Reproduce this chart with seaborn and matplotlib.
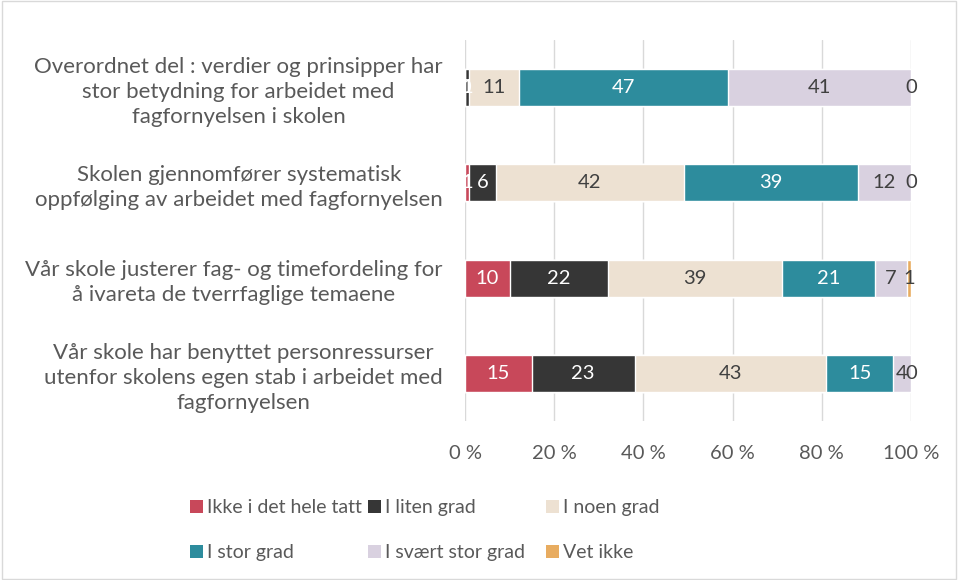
import numpy as np
import pandas as pd
import seaborn as sns
import matplotlib.pyplot as plt
from matplotlib.patches import Patch, Rectangle

# Data (percent of respondents)
statements = [
    "Overordnet del : verdier og prinsipper har\nstor betydning for arbeidet med\nfagfornyelsen i skolen",
    "Skolen gjennomfører systematisk\noppfølging av arbeidet med fagfornyelsen",
    "Vår skole justerer fag- og timefordeling for\nå ivareta de tverrfaglige temaene",
    "Vår skole har benyttet personressurser\nutenfor skolens egen stab i arbeidet med\nfagfornyelsen",
]
series = ["Ikke i det hele tatt", "I liten grad", "I noen grad",
          "I stor grad", "I svært stor grad", "Vet ikke"]
ikke = [0, 1, 10, 15]
liten = [1, 6, 22, 23]
noen = [11, 42, 39, 43]
stor = [47, 39, 21, 15]
svaert = [41, 12, 7, 4]
vet_ikke = [0, 0, 1, 0]
x_ticks = [0, 20, 40, 60, 80, 100]
x_ticklabels = ["0 %", "20 %", "40 %", "60 %", "80 %", "100 %"]

colors = ["#C8485A", "#363636", "#EDE1D2", "#2D8C9D", "#D9D1E0", "#E8AC60"]
label_colors = ["white", "white", "#404040", "white", "#404040", "#404040"]
text_grey = "#595959"

sns.set_theme(style="white")
plt.rcParams["font.family"] = ["Lato", "DejaVu Sans"]

values = pd.DataFrame(
    np.array([ikke, liten, noen, stor, svaert, vet_ikke]).T,
    index=statements, columns=series,
)
cum = values.cumsum(axis=1)

fig = plt.figure(figsize=(9.58, 5.8), dpi=100)
ax = fig.add_axes([0.4854, 0.274, 0.4656, 0.657])

# stacked bars: paint cumulative totals back to front
for i in range(len(series) - 1, -1, -1):
    df = pd.DataFrame({"statement": statements, "x": cum.iloc[:, i].values})
    sns.barplot(data=df, x="x", y="statement", orient="h", color=colors[i],
                width=0.39, saturation=1, ax=ax, zorder=2)

# segment labels
for i, name in enumerate(series):
    for j, st in enumerate(statements):
        v = values.loc[st, name]
        ax.text(cum.loc[st, name] - v / 2, j, f"{v:.0f}", ha="center", va="center",
                fontsize=14.5, color=label_colors[i], zorder=3)

ax.set_xlim(0, 100)
ax.set_ylim(3.5, -0.5)
ax.set_xticks(x_ticks)
ax.set_xticklabels(x_ticklabels)
ax.set_xlabel("")
ax.set_ylabel("")
ax.grid(axis="x", color="#D9D9D9", linewidth=1, zorder=0)
ax.set_axisbelow(True)
for s in ax.spines.values():
    s.set_visible(False)
ax.tick_params(axis="x", length=0, pad=17, labelsize=14.5, labelcolor=text_grey)
ax.tick_params(axis="y", length=0, pad=16, labelsize=16, labelcolor=text_grey)
for lbl in ax.get_yticklabels():
    lbl.set_multialignment("center")
    lbl.set_linespacing(1.3)

# legend laid out in three fixed columns, two rows
handles = [Patch(facecolor=c, edgecolor="none") for c in colors]
col_x = [190, 368, 546]
for k, x0 in enumerate(col_x):
    idx = [k, k + 3]
    fig.legend([handles[i] for i in idx], [series[i] for i in idx],
               loc="upper left", bbox_to_anchor=(x0 / 958, 1 - 499 / 580),
               frameon=False, fontsize=14, labelcolor=text_grey,
               handlelength=0.65, handleheight=0.65, handletextpad=0.2,
               borderpad=0, borderaxespad=0, labelspacing=1.45)

# light chart border
fig.patches.append(Rectangle((0.002, 0.002), 0.996, 0.996, transform=fig.transFigure,
                             fill=False, edgecolor="#D9D9D9", linewidth=1))

fig.savefig("out.png", dpi=100)
